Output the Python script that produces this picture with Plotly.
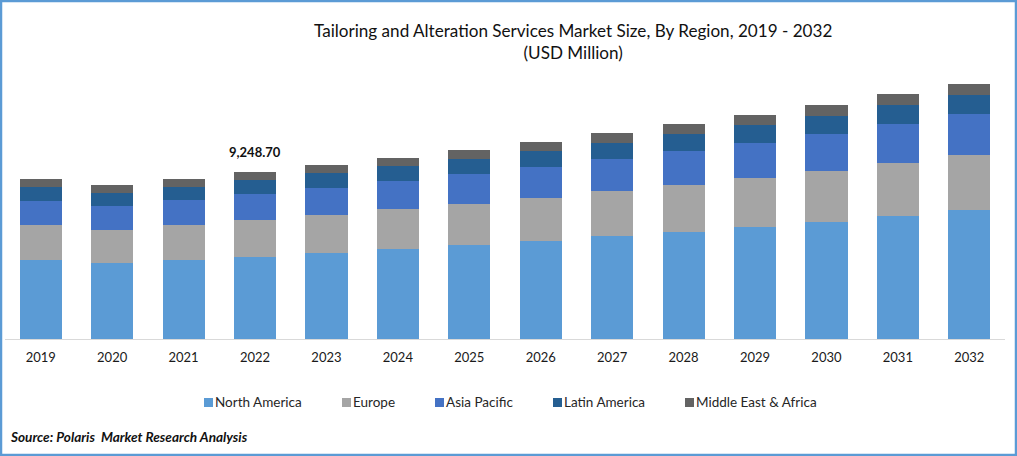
import plotly.graph_objects as go

years = ["2019", "2020", "2021", "2022", "2023", "2024", "2025", "2026", "2027", "2028", "2029", "2030", "2031", "2032"]

north_america = [4375, 4209, 4375, 4541, 4763, 4984, 5206, 5427, 5704, 5926, 6203, 6479, 6812, 7144]
europe = [1938, 1828, 1938, 2049, 2104, 2215, 2271, 2381, 2492, 2603, 2714, 2824, 2935, 3046]
asia_pacific = [1329, 1329, 1385, 1440, 1495, 1551, 1661, 1717, 1772, 1883, 1938, 2049, 2160, 2271]
latin_america = [775, 720, 720, 775, 831, 831, 831, 886, 886, 941, 997, 997, 1052, 1052]
middle_east = [443, 443, 443, 443, 443, 443, 498, 498, 554, 554, 554, 609, 609, 609]

W, H = 1017, 456
ML, MR, MT, MB = 5, 12, 60, 117
FONT = "Lato, Carlito, Calibri, sans-serif"


# pixel position in the window -> paper fraction, for the furniture around the plot
def px(x):
    return (x - ML) / (W - ML - MR)


def py(y):
    return (H - MB - y) / (H - MT - MB)


series = [
    ("North America", north_america, "#5B9BD5"),
    ("Europe", europe, "#A5A5A5"),
    ("Asia Pacific", asia_pacific, "#4472C4"),
    ("Latin America", latin_america, "#255E91"),
    ("Middle East & Africa", middle_east, "#636363"),
]
# the reference's key sits tight against its labels, tighter than plotly's legend allows
legend_x = [204, 342, 435, 553, 685]

fig = go.Figure()
for name, vals, color in series:
    fig.add_trace(go.Bar(x=years, y=vals, name=name, marker_color=color, marker_line_width=0))

annotations = [
    dict(text="Tailoring and Alteration Services Market Size, By Region, 2019 - 2032<br>(USD Million)",
         xref="paper", yref="paper", x=px(572.5), y=py(17.5), xanchor="center", yanchor="top",
         showarrow=False, font=dict(size=17.1, color="#111111")),
    dict(text="<b>9,248.70</b>", x=years.index("2022"), y=sum(s[1][3] for s in series), xref="x", yref="y",
         yshift=10, yanchor="bottom", showarrow=False, font=dict(size=13, color="#111111")),
    dict(text="<b><i>Source: Polaris  Market Research Analysis</i></b>", xref="paper", yref="paper",
         x=px(8), y=py(437), xanchor="left", yanchor="middle", showarrow=False,
         font=dict(size=13.6, color="#111111")),
]
shapes = [
    dict(type="rect", xref="paper", yref="paper", x0=px(1), x1=px(1016), y0=py(455), y1=py(1),
         line=dict(color="#5B9BD5", width=2.5), layer="above"),
]
for (name, vals, color), lx in zip(series, legend_x):
    shapes.append(dict(type="rect", xref="paper", yref="paper", x0=px(lx), x1=px(lx + 9),
                       y0=py(407), y1=py(398), fillcolor=color, line_width=0))
    annotations.append(dict(text=name, xref="paper", yref="paper", x=px(lx + 9), y=py(401.5),
                            xanchor="left", yanchor="middle", showarrow=False,
                            font=dict(size=13.5, color="#262626")))

fig.update_layout(
    width=W, height=H,
    barmode="stack", bargap=0.41,
    paper_bgcolor="white", plot_bgcolor="white",
    margin=dict(l=ML, r=MR, t=MT, b=MB, autoexpand=False),
    font=dict(family=FONT, size=13, color="#1a1a1a"),
    showlegend=False,
    annotations=annotations,
    shapes=shapes,
)
fig.update_xaxes(type="category", range=[-0.5, 13.5], showgrid=False, showline=True, linecolor="#D9D9D9",
                 linewidth=1, ticks="", tickfont=dict(size=13, color="#1a1a1a"), ticklabelstandoff=6)
fig.update_yaxes(range=[0, 15451], visible=False, showgrid=False)

fig.write_html("out.html", config=dict(displayModeBar=False),
               post_script="document.body.style.margin='0';document.body.style.overflow='hidden';")
